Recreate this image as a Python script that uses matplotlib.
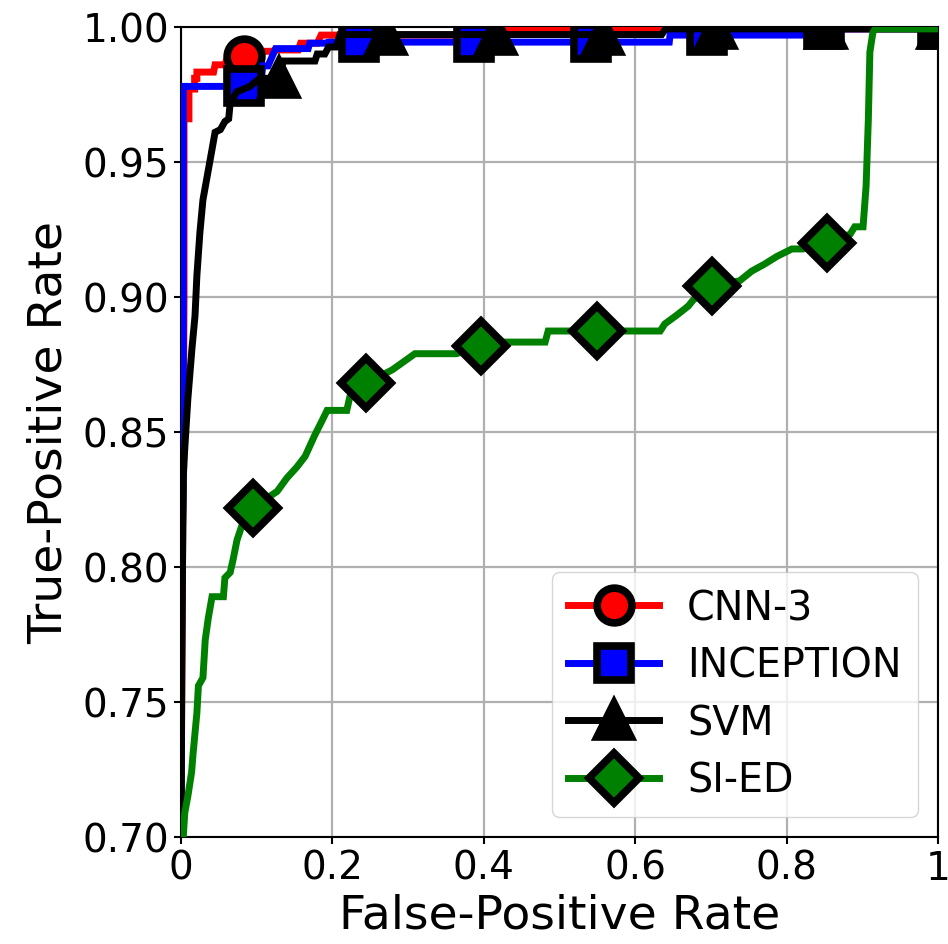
import matplotlib
matplotlib.use("Agg")
import matplotlib.pyplot as plt
from matplotlib.lines import Line2D

# ---- data ----
cnn_fpr = [0.0, 0.003, 0.004, 0.004, 0.0105, 0.0105, 0.018, 0.018, 0.021, 0.021, 0.043, 0.045, 0.058,
           0.062, 0.083, 0.105, 0.108, 0.12, 0.125, 0.155, 0.158, 0.18, 0.185, 0.425, 0.428, 1.0]
cnn_tpr = [0.70, 0.85, 0.90, 0.966, 0.966, 0.977, 0.977, 0.981, 0.981, 0.9833, 0.9833, 0.986, 0.986,
           0.9894, 0.9894, 0.9894, 0.991, 0.991, 0.9915, 0.9915, 0.994, 0.994, 0.997, 0.997, 0.9993, 0.9993]
cnn_mark_fpr = [0.083]
cnn_mark_tpr = [0.9894]

inc_fpr = [0.0, 0.001, 0.003, 0.003, 0.083, 0.105, 0.108, 0.115, 0.125, 0.168, 0.17, 0.19, 0.195,
           0.645, 0.646, 0.82, 0.822, 1.0]
inc_tpr = [0.70, 0.80, 0.83, 0.978, 0.978, 0.978, 0.9856, 0.9856, 0.992, 0.992, 0.994, 0.994, 0.9944,
           0.9944, 0.997, 0.997, 0.9993, 0.9993]
inc_mark_fpr = [0.083, 0.235, 0.387, 0.542, 0.695, 0.85, 1.0]
inc_mark_tpr = [0.978, 0.9944, 0.9944, 0.9944, 0.997, 0.9993, 0.9993]

svm_fpr = [0.0, 0.001, 0.002, 0.003, 0.005, 0.009, 0.0145, 0.0185, 0.021, 0.025, 0.029, 0.038, 0.045,
           0.052, 0.058, 0.063, 0.065, 0.074, 0.091, 0.104, 0.13, 0.135, 0.177, 0.18, 0.19, 0.195,
           0.205, 0.21, 0.635, 0.64, 1.0]
svm_tpr = [0.70, 0.76, 0.80, 0.833, 0.844, 0.862, 0.881, 0.893, 0.908, 0.924, 0.936, 0.95, 0.961,
           0.962, 0.965, 0.966, 0.972, 0.976, 0.978, 0.981, 0.981, 0.9874, 0.9874, 0.990, 0.990, 0.9926,
           0.9926, 0.9972, 0.9972, 0.9993, 0.9993]
svm_mark_fpr = [0.13, 0.271, 0.416, 0.558, 0.707, 0.852, 1.0]
svm_mark_tpr = [0.981, 0.9972, 0.9972, 0.9972, 0.9993, 0.9993, 0.9993]

sied_fpr = [0.003, 0.005, 0.009, 0.014, 0.016, 0.021, 0.023, 0.029, 0.032, 0.036, 0.041, 0.056, 0.058,
            0.065, 0.069, 0.074, 0.080, 0.095, 0.127, 0.140, 0.153, 0.164, 0.177, 0.186, 0.193, 0.219,
            0.223, 0.244, 0.279, 0.294, 0.309, 0.364, 0.396, 0.425, 0.481, 0.485, 0.549, 0.633, 0.639,
            0.655, 0.670, 0.677, 0.701, 0.738, 0.754, 0.771, 0.787, 0.807, 0.822, 0.853, 0.884, 0.890,
            0.901, 0.905, 0.908, 0.910, 0.914, 0.917, 1.0]
sied_tpr = [0.70, 0.709, 0.715, 0.724, 0.731, 0.746, 0.756, 0.759, 0.773, 0.781, 0.789, 0.789, 0.796,
            0.798, 0.803, 0.810, 0.815, 0.822, 0.828, 0.833, 0.837, 0.841, 0.849, 0.854, 0.858, 0.858,
            0.863, 0.868, 0.873, 0.876, 0.879, 0.879, 0.882, 0.8833, 0.8833, 0.8874, 0.8874, 0.8874, 0.890,
            0.8933, 0.8966, 0.899, 0.904, 0.906, 0.9096, 0.9122, 0.915, 0.9178, 0.9178, 0.920, 0.9233, 0.926,
            0.926, 0.941, 0.966, 0.9907, 0.998, 0.9993, 0.9993]
sied_mark_fpr = [0.095, 0.244, 0.396, 0.549, 0.701, 0.853]
sied_mark_tpr = [0.822, 0.868, 0.882, 0.8874, 0.904, 0.920]

labels = ["CNN-3", "INCEPTION", "SVM", "SI-ED"]
x_ticks = [0, 0.2, 0.4, 0.6, 0.8, 1.0]
x_ticklabels = ["0", "0.2", "0.4", "0.6", "0.8", "1"]
y_ticks = [0.70, 0.75, 0.80, 0.85, 0.90, 0.95, 1.00]

# ---- plot ----
fig = plt.figure(figsize=(9.48, 9.45), dpi=100)
ax = fig.add_axes([181 / 948, 1 - 838 / 945, (938 - 181) / 948, (838 - 28) / 945])

LW = 5
MS = 25
MEW = 5.5

series = [
    (cnn_fpr, cnn_tpr, cnn_mark_fpr, cnn_mark_tpr, "red", "o"),
    (inc_fpr, inc_tpr, inc_mark_fpr, inc_mark_tpr, "blue", "s"),
    (svm_fpr, svm_tpr, svm_mark_fpr, svm_mark_tpr, "black", "^"),
    (sied_fpr, sied_tpr, sied_mark_fpr, sied_mark_tpr, "green", "D"),
]
handles = []
for i, (fx, fy, mx, my, col, mk) in enumerate(series):
    z = 3 + i
    ax.plot(fx, fy, color=col, lw=LW, zorder=z, solid_joinstyle="miter")
    ax.plot(mx, my, linestyle="none", marker=mk, markersize=MS, markerfacecolor=col,
            markeredgecolor="black", markeredgewidth=MEW, zorder=z)
    handles.append(Line2D([], [], color=col, lw=LW, marker=mk, markersize=MS,
                          markerfacecolor=col, markeredgecolor="black", markeredgewidth=MEW))

ax.set_xlim(0, 1)
ax.set_ylim(0.70, 1.00)
ax.set_xticks(x_ticks)
ax.set_xticklabels(x_ticklabels)
ax.set_yticks(y_ticks)
ax.set_yticklabels([f"{v:.2f}" for v in y_ticks])
ax.tick_params(labelsize=28, width=1.5, length=5)
ax.grid(True, color="#b0b0b0", lw=1.6, zorder=0)
ax.set_axisbelow(True)
for s in ax.spines.values():
    s.set_linewidth(1.5)

ax.set_xlabel("False-Positive Rate", fontsize=34, labelpad=4)
ax.set_ylabel("True-Positive Rate", fontsize=34, labelpad=8)

ax.legend(handles, labels, loc="lower right", fontsize=28.5, handlelength=2.3,
          handletextpad=0.7, labelspacing=0.44, borderpad=0.42, framealpha=0.8)

fig.savefig("out.png", dpi=100)
